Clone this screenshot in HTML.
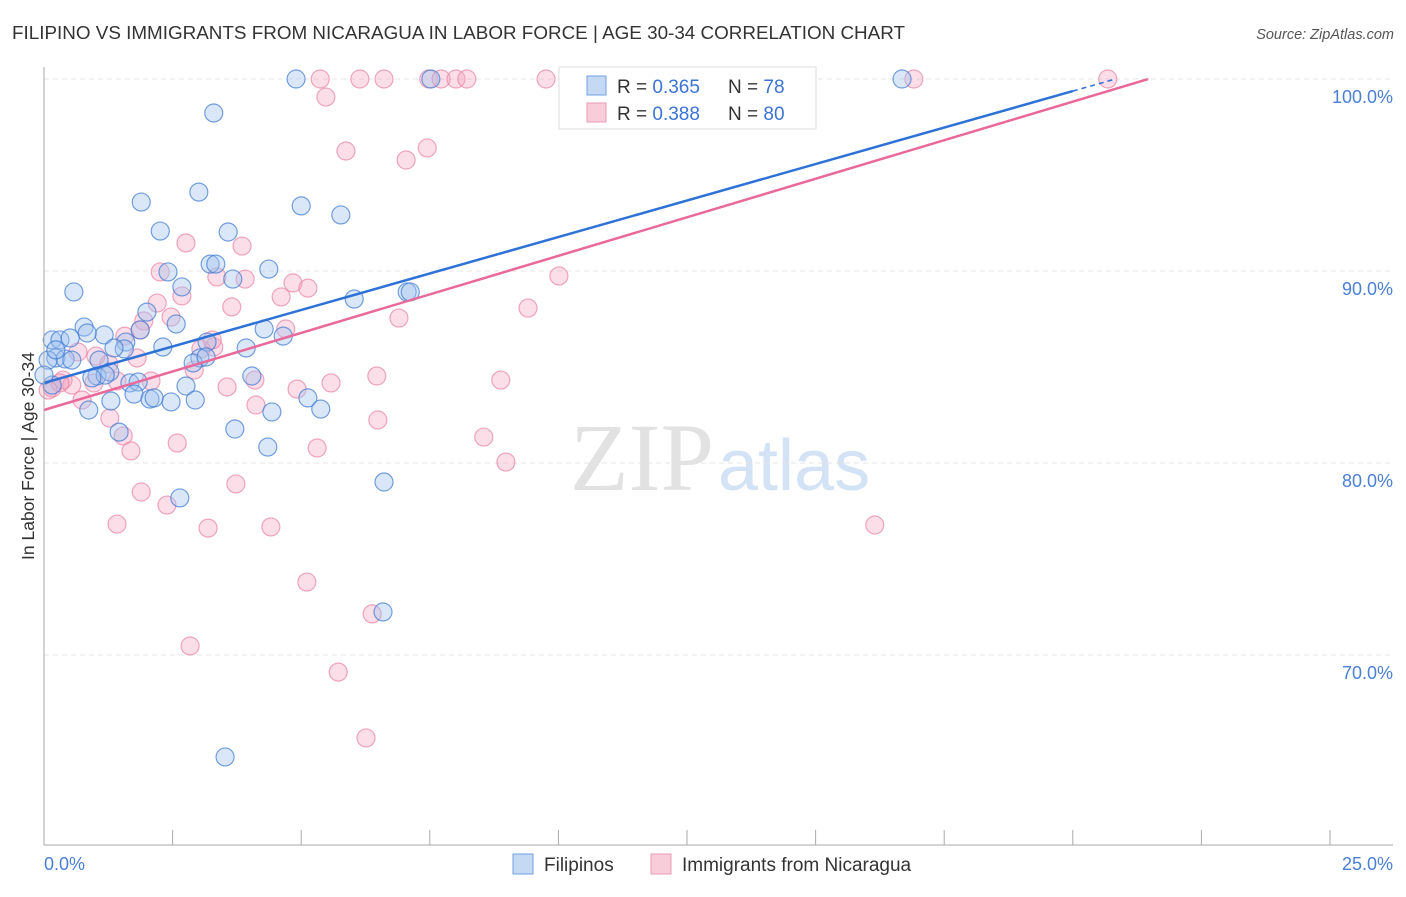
<!DOCTYPE html>
<html><head><meta charset="utf-8"><style>
body{margin:0;background:#fff;font-family:"Liberation Sans",sans-serif}
</style></head><body>
<svg id="c" width="1406" height="892" xmlns="http://www.w3.org/2000/svg" font-family="Liberation Sans, sans-serif">
<text x="12" y="39" font-size="18" fill="#333" textLength="893" lengthAdjust="spacingAndGlyphs">FILIPINO VS IMMIGRANTS FROM NICARAGUA IN LABOR FORCE | AGE 30-34 CORRELATION CHART</text>
<text x="1394" y="39" font-size="14.5" fill="#555" font-style="italic" text-anchor="end">Source: ZipAtlas.com</text>
<text x="714" y="490" font-size="96" text-anchor="end" fill="#e2e2e2" font-family="Liberation Serif, serif">ZIP</text>
<text x="718" y="490" font-size="72" fill="#d3e2f4">atlas</text>
<g id="grid"></g><g id="pts"></g><g id="lines"></g>
<line x1="44" y1="67" x2="44" y2="845" stroke="#aaa"/>
<line x1="44" y1="845" x2="1393" y2="845" stroke="#aaa"/>
<text transform="translate(34,456) rotate(-90)" font-size="17.5" fill="#333" text-anchor="middle">In Labor Force | Age 30-34</text>
<text x="44" y="870" font-size="18" fill="#4a7fd4">0.0%</text>
<text x="1393" y="870" font-size="18" fill="#4a7fd4" text-anchor="end">25.0%</text>
<g>
<rect x="559" y="67" width="257" height="62" fill="#fff" stroke="#ddd"/>
<rect x="587" y="76" width="19" height="19" fill="#c5d9f5" stroke="#6f9fe0"/>
<rect x="587" y="103" width="19" height="19" fill="#f9ccd9" stroke="#eb9ab4"/>
<text x="617" y="93" font-size="19" fill="#333">R = <tspan fill="#3b73d3">0.365</tspan></text>
<text x="728" y="93" font-size="19" fill="#333">N = <tspan fill="#3b73d3">78</tspan></text>
<text x="617" y="120" font-size="19" fill="#333">R = <tspan fill="#3b73d3">0.388</tspan></text>
<text x="728" y="120" font-size="19" fill="#333">N = <tspan fill="#3b73d3">80</tspan></text>
</g>
<g>
<rect x="513" y="854" width="20" height="20" fill="#c5d9f5" stroke="#6f9fe0"/>
<text x="544" y="871" font-size="19" fill="#333">Filipinos</text>
<rect x="651" y="854" width="20" height="20" fill="#f9ccd9" stroke="#eb9ab4"/>
<text x="682" y="871" font-size="19" fill="#333">Immigrants from Nicaragua</text>
</g>
</svg>
<script>
const yTicks=[100,90,80,70];
const yTickLabels=["100.0%","90.0%","80.0%","70.0%"];
const xTicks=[0,2.5,5,7.5,10,12.5,15,17.5,20,22.5,25];
const blueX=[4.9,7.52,11.76,16.68,3.30,1.89,3.01,5.00,5.77,2.26,3.58,3.23,3.34,4.37,2.41,3.67,0.58,2.68,6.03,7.06,7.12,2.00,2.57,0.78,1.17,1.59,0.16,0.31,0.51,0.84,2.31,3.17,3.93,4.28,4.65,0.23,0.41,0.54,1.56,1.36,3.03,2.90,1.07,1.03,1.28,1.67,1.83,1.75,4.04,2.76,5.13,2.06,2.47,2.94,1.30,0.87,4.43,5.38,1.46,3.71,4.35,6.61,2.64,6.59,3.52,0.16,0.08,0,1.87,3.15,0.23,1.19,2.14,0.93];
const blueY=[100,100,100,100,98.23,93.59,94.11,93.39,92.92,92.08,92.03,90.36,90.36,90.10,89.95,89.58,88.91,89.17,88.54,88.91,88.91,87.86,87.24,87.08,86.67,86.30,86.41,86.41,86.51,86.77,86.04,86.30,85.99,86.98,86.61,85.47,85.42,85.36,85.94,85.99,85.47,85.21,85.36,84.53,84.74,84.17,84.22,83.59,84.53,84.01,83.39,83.33,83.18,83.28,83.23,82.76,82.66,82.81,81.61,81.77,80.83,79.01,78.18,72.24,64.69,84.06,85.36,84.58,86.93,85.52,85.89,84.58,83.39,84.43];
const pinkX=[5.37,6.14,6.61,7.48,7.72,8.01,8.22,9.76,16.91,20.68,5.48,10.42,5.87,7.45,7.04,2.76,3.85,2.26,3.36,3.91,4.84,5.13,2.68,4.61,2.20,3.65,9.41,10.01,2.47,1.94,6.90,4.70,1.57,1.01,1.26,1.81,3.30,2.92,0.97,0.37,0.54,0.16,1.42,2.08,3.56,4.10,4.92,5.58,6.47,8.88,0.74,1.28,4.12,6.49,8.55,1.54,2.59,1.69,8.98,5.31,3.73,1.89,2.39,1.42,3.19,4.41,16.15,5.11,6.38,2.84,5.72,6.26,0.31,0.08,3.05,3.27,0.66,1.87];
const pinkY=[100,100,100,100,100,100,100,100,100,100,99.06,98.49,96.25,96.41,95.78,91.46,91.30,89.95,89.69,89.58,89.38,89.11,88.70,88.65,88.33,88.13,88.07,89.74,87.60,87.40,87.55,86.98,86.61,85.57,85.16,85.47,86.04,84.84,84.17,84.32,84.06,83.91,84.27,84.27,83.96,84.32,83.85,84.17,84.53,84.32,83.28,82.34,83.02,82.24,81.35,81.41,81.04,80.63,80.05,80.78,78.91,78.49,77.81,76.82,76.61,76.67,76.77,73.80,72.14,70.47,69.11,65.68,84.17,83.80,85.94,86.41,85.78,86.93];
const blueTrend=[84.17,0.760];
const pinkTrend=[82.76,0.803];
const NS="http://www.w3.org/2000/svg";
const sx=v=>44+v/25*1286, sy=v=>79+(100-v)*19.2;
function mk(t,a,p){const e=document.createElementNS(NS,t);for(const k in a)e.setAttribute(k,a[k]);p.appendChild(e);return e;}
const grid=document.getElementById('grid');
yTicks.forEach((t,i)=>{
 const l=mk('line',{x1:44,x2:1393,y1:sy(t),y2:sy(t),stroke:'#e4e4e4','stroke-dasharray':'5,4'},grid);
 
 
 const tx=mk('text',{x:1393,y:sy(t)+24,'font-size':18,fill:'#4a7fd4','text-anchor':'end'},grid);
 tx.textContent=yTickLabels[i];
 
 
});
xTicks.forEach(t=>{
 const l=mk('line',{x1:sx(t),x2:sx(t),y1:830,y2:845,stroke:'#aaa'},grid);
 
 
});
const pts=document.getElementById('pts');
pinkX.forEach((x,i)=>{
 const c=mk('circle',{cx:sx(x),cy:sy(pinkY[i]),r:9,fill:'rgba(244,160,188,0.35)',stroke:'rgba(232,130,165,0.7)','stroke-width':1.2},pts);
 
 
});
blueX.forEach((x,i)=>{
 const c=mk('circle',{cx:sx(x),cy:sy(blueY[i]),r:9,fill:'rgba(160,196,240,0.4)',stroke:'rgba(60,120,210,0.7)','stroke-width':1.2},pts);
 
 
});
const lines=document.getElementById('lines');
function trend(tr,col,name,solidEnd){
 const xEnd=(100-tr[0])/tr[1];
 const l=mk('line',{x1:sx(0),y1:sy(tr[0]),x2:sx(solidEnd),y2:sy(tr[0]+tr[1]*solidEnd),stroke:col,'stroke-width':2.5},lines);
 
 
 if(xEnd>solidEnd){
 const d=mk('line',{x1:sx(solidEnd),y1:sy(tr[0]+tr[1]*solidEnd),x2:sx(xEnd),y2:sy(100),stroke:col,'stroke-width':1.5,'stroke-dasharray':'5,4'},lines);
 
 
 }
}
trend(pinkTrend,'#e8699a','nicaragua-trend-line',21.46);
trend(blueTrend,'#2f72d6','filipino-trend-line',20.0);
</script>
</body></html>
